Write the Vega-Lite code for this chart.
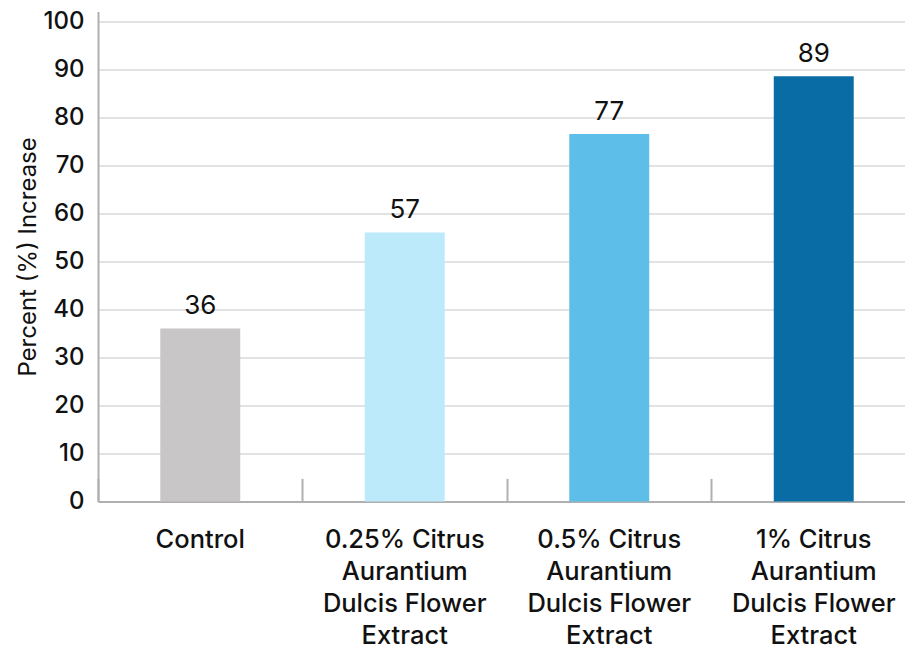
{
  "$schema": "https://vega.github.io/schema/vega-lite/v6.json",
  "autosize": {"type": "none"},
  "width": 818,
  "height": 490,
  "padding": {"left": 98, "top": 11.4, "right": 0, "bottom": 152},
  "background": "white",
  "config": {
    "view": {"stroke": null},
    "font": "Inter"
  },
  "data": {
    "values": [
      {"group": "Control", "value": 36, "label": "36"},
      {"group": "0.25% Citrus|Aurantium|Dulcis Flower|Extract", "value": 56, "label": "57"},
      {"group": "0.5% Citrus|Aurantium|Dulcis Flower|Extract", "value": 76.5, "label": "77"},
      {"group": "1% Citrus|Aurantium|Dulcis Flower|Extract", "value": 88.5, "label": "89"}
    ]
  },
  "encoding": {
    "x": {
      "field": "group",
      "type": "nominal",
      "sort": null,
      "scale": {"paddingInner": 0, "paddingOuter": 0},
      "axis": {
        "title": null,
        "labelAngle": 0,
        "labelExpr": "split(datum.value, '|')",
        "labelFont": "Inter",
        "labelFontSize": 25.5,
        "labelFontWeight": 500,
        "labelColor": "#111111",
        "labelLineHeight": 32,
        "labelBaseline": "top",
        "labelPadding": 49,
        "labelLimit": 300,
        "bandPosition": 0,
        "ticks": true,
        "tickSize": -23,
        "tickColor": "#b0b0b0",
        "tickWidth": 2,
        "domainColor": "#b0b0b0",
        "domainWidth": 2,
        "grid": false
      }
    },
    "y": {
      "field": "value",
      "type": "quantitative",
      "scale": {"domain": [0, 102], "nice": false},
      "axis": {
        "title": "Percent (%) Increase",
        "titleFont": "Inter",
        "titleFontSize": 24,
        "titleFontWeight": 400,
        "titleColor": "#111111",
        "titlePadding": 3,
        "values": [0, 10, 20, 30, 40, 50, 60, 70, 80, 90, 100],
        "labelFont": "Inter",
        "labelFontSize": 24,
        "labelFontWeight": 500,
        "labelColor": "#111111",
        "labelPadding": 14,
        "ticks": false,
        "domainColor": "#b0b0b0",
        "domainWidth": 2,
        "gridColor": "#d9d9d9",
        "gridWidth": 1.5
      }
    }
  },
  "layer": [
    {
      "mark": {"type": "bar", "width": {"band": 0.391}},
      "encoding": {
        "color": {
          "field": "group",
          "type": "nominal",
          "scale": {
            "domain": [
              "Control",
              "0.25% Citrus|Aurantium|Dulcis Flower|Extract",
              "0.5% Citrus|Aurantium|Dulcis Flower|Extract",
              "1% Citrus|Aurantium|Dulcis Flower|Extract"
            ],
            "range": ["#c8c6c7", "#bdeafb", "#5dbfe9", "#0a6ca4"]
          },
          "legend": null
        }
      }
    },
    {
      "mark": {"type": "text", "baseline": "bottom", "dy": -9, "fontSize": 26, "font": "Inter", "color": "#111111"},
      "encoding": {"text": {"field": "label"}}
    }
  ]
}
